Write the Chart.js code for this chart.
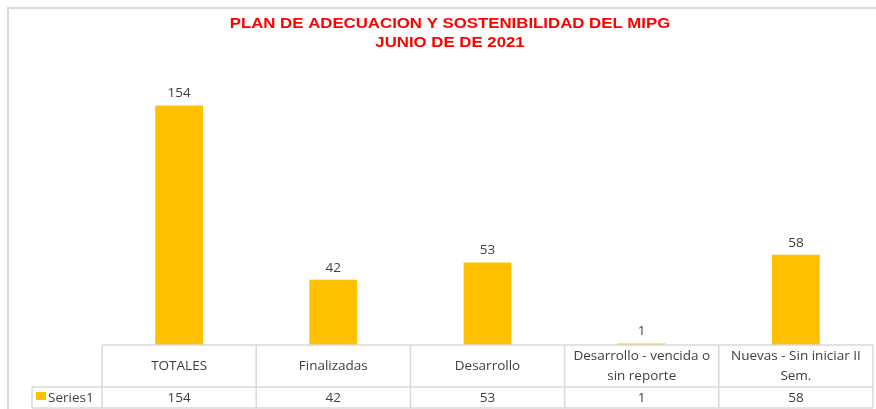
<!DOCTYPE html>
<html>
<head>
<meta charset="utf-8">
<script src="https://cdn.jsdelivr.net/npm/chart.js@4"></script>
<style>
	html, body { margin: 0; padding: 0; background: #fff; }
	canvas { display: block; }
</style>
</head>
<body>
<canvas id="chart-mipg" width="876" height="409"></canvas>
<script>
// Chart data
const CATEGORIES = [
	["TOTALES"],
	["Finalizadas"],
	["Desarrollo"],
	["Desarrollo - vencida o", "sin reporte"],
	["Nuevas - Sin iniciar II", "Sem."],
];
const SERIES_NAME = "Series1";
const SERIES_VALUES = [154, 42, 53, 1, 58];
const TITLE_LINES = ["PLAN DE ADECUACION Y SOSTENIBILIDAD DEL MIPG", "JUNIO DE DE 2021"];

const BAR_COLOR = "#FFC000";
const TEXT_COLOR = "#404040";
const LINE_COLOR = "#D9D9D9";
const FONT = "'Open Sans', sans-serif";

// Frame, title, value labels and the data table below the plot
const excelLook = {
	id: "excelLook",
	afterDraw(chart) {
		const { ctx, chartArea } = chart;
		const xScale = chart.scales.x;
		const meta = chart.getDatasetMeta(0);
		const step = xScale.width / CATEGORIES.length;

		ctx.save();

		// chart frame
		ctx.strokeStyle = LINE_COLOR;
		ctx.lineWidth = 2;
		ctx.beginPath();
		ctx.moveTo(8, 420);
		ctx.lineTo(8, 8);
		ctx.lineTo(880, 8);
		ctx.stroke();

		// title (the original is drawn a little wide)
		ctx.save();
		ctx.translate(450, 0);
		ctx.scale(1.2, 1);
		ctx.fillStyle = "#FF0000";
		ctx.font = "bold 14px 'Liberation Sans', Arial, sans-serif";
		ctx.textAlign = "center";
		ctx.textBaseline = "middle";
		ctx.fillText(TITLE_LINES[0], 0, 24);
		ctx.fillText(TITLE_LINES[1], 0, 43);
		ctx.restore();

		ctx.textAlign = "center";
		ctx.textBaseline = "middle";

		// value labels
		ctx.fillStyle = TEXT_COLOR;
		ctx.font = "13.5px " + FONT;
		meta.data.forEach((bar, i) => {
			ctx.fillText(String(SERIES_VALUES[i]), bar.x, bar.y - 12);
		});

		// data table
		const top = chartArea.bottom;
		const mid = top + 42;
		const bottom = mid + 21;
		const left = xScale.left;
		const right = xScale.right;
		const legendLeft = 32;

		ctx.strokeStyle = LINE_COLOR;
		ctx.lineWidth = 1.5;
		ctx.beginPath();
		ctx.moveTo(left, top);
		ctx.lineTo(right, top);
		ctx.moveTo(legendLeft, mid);
		ctx.lineTo(right, mid);
		ctx.moveTo(legendLeft, bottom);
		ctx.lineTo(right, bottom);
		ctx.moveTo(legendLeft, mid);
		ctx.lineTo(legendLeft, bottom);
		for (let i = 0; i <= CATEGORIES.length; i++) {
			const x = left + i * step;
			ctx.moveTo(x, top);
			ctx.lineTo(x, bottom);
		}
		ctx.stroke();

		ctx.fillStyle = TEXT_COLOR;
		ctx.font = "13.5px " + FONT;
		CATEGORIES.forEach((lines, i) => {
			const cx = xScale.getPixelForValue(i);
			const cy = (top + mid) / 2;
			lines.forEach((line, j) => {
				ctx.fillText(line, cx, cy + (j - (lines.length - 1) / 2) * 20);
			});
			ctx.fillText(String(SERIES_VALUES[i]), cx, (mid + bottom) / 2 + 1);
		});

		// legend key
		ctx.fillStyle = BAR_COLOR;
		ctx.fillRect(36, mid + 5, 10, 8);
		ctx.fillStyle = TEXT_COLOR;
		ctx.textAlign = "left";
		ctx.fillText(SERIES_NAME, 48, (mid + bottom) / 2 + 1);

		ctx.restore();
	},
};

const CHART_CONFIG = {
	type: "bar",
	data: {
		labels: CATEGORIES.map((c) => c.join(" ")),
		datasets: [
			{
				label: SERIES_NAME,
				data: SERIES_VALUES,
				backgroundColor: BAR_COLOR,
				borderWidth: 0,
				categoryPercentage: 1,
				barPercentage: 0.31,
			},
		],
	},
	options: {
		responsive: false,
		animation: false,
		layout: {
			padding: { left: 102, right: 3, top: 65, bottom: 64 },
		},
		scales: {
			x: { display: false, offset: true },
			y: { display: false, min: 0, max: 180 },
		},
		plugins: {
			legend: { display: false },
			title: { display: false },
			tooltip: { enabled: false },
		},
	},
	plugins: [excelLook],
};

new Chart(document.getElementById("chart-mipg"), CHART_CONFIG);
</script>
</body>
</html>
